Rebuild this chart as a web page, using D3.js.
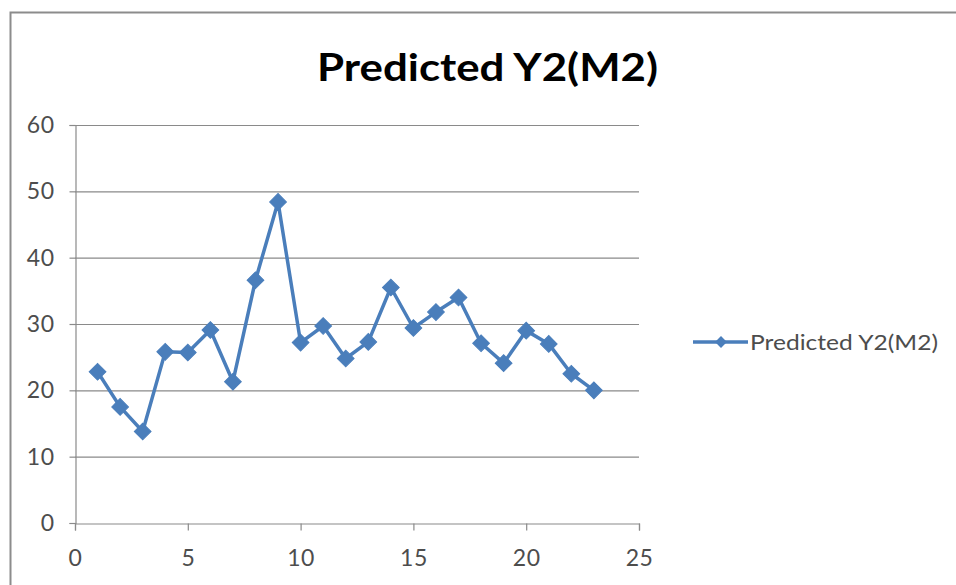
<!DOCTYPE html>
<html>
<head>
<meta charset="utf-8">
<script src="https://cdn.jsdelivr.net/npm/d3@7"></script>
<style>
  html, body { margin: 0; padding: 0; background: #fff; }
  svg { display: block; }
</style>
</head>
<body>
<svg id="chart" width="956" height="585"></svg>
<script>
// Series data
const xValues = [1, 2, 3, 4, 5, 6, 7, 8, 9, 10, 11, 12, 13, 14, 15, 16, 17, 18, 19, 20, 21, 22, 23];
const yValues = [22.8, 17.5, 13.8, 25.8, 25.7, 29.1, 21.3, 36.6, 48.4, 27.2, 29.7, 24.8, 27.3, 35.5, 29.4, 31.8, 34.0, 27.1, 24.1, 29.0, 27.0, 22.5, 20.0];
const xTicks = [0, 5, 10, 15, 20, 25];
const yTicks = [0, 10, 20, 30, 40, 50, 60];
const seriesName = "Predicted Y2(M2)";
const chartTitle = "Predicted Y2(M2)";

const svg = d3.select("#chart");
const font = "Lato, 'Open Sans', sans-serif";
const blue = "#4A7EBB";
const labelGray = "#4d4d4d";

// Chart frame
svg.append("rect")
  .attr("x", 10.5).attr("y", 12.5)
  .attr("width", 960).attr("height", 600)
  .attr("fill", "#fff")
  .attr("stroke", "#8c8c8c")
  .attr("stroke-width", 2);

const plot = { left: 75, right: 639, top: 125, bottom: 523 };

const x = d3.scaleLinear().domain([0, 25]).range([plot.left, plot.right]);
const y = d3.scaleLinear().domain([0, 60]).range([plot.bottom, plot.top]);

// Gridlines
svg.append("g")
  .selectAll("line")
  .data(yTicks.filter(d => d > 0))
  .join("line")
  .attr("x1", plot.left).attr("x2", plot.right)
  .attr("y1", d => y(d) + 0.5).attr("y2", d => y(d) + 0.5)
  .attr("stroke", "#8a8a8a")
  .attr("stroke-width", 1.2);

// Y axis
const yAxis = svg.append("g")
  .attr("transform", `translate(${plot.left + 0.5},0)`)
  .call(d3.axisLeft(y).tickValues(yTicks).tickSize(6).tickPadding(15).tickFormat(d3.format("d")));

// X axis
const xAxis = svg.append("g")
  .attr("transform", `translate(0,${plot.bottom + 0.5})`)
  .call(d3.axisBottom(x).tickValues(xTicks).tickSize(7).tickPadding(19).tickFormat(d3.format("d")));

[yAxis, xAxis].forEach(g => {
  g.select(".domain").attr("stroke", "#8a8a8a").attr("stroke-width", 1.2);
  g.selectAll(".tick line").attr("stroke", "#8a8a8a").attr("stroke-width", 1.2);
  g.selectAll(".tick text")
    .attr("fill", labelGray)
    .style("font-family", font)
    .style("font-size", "23px")
    .style("letter-spacing", "0.5px");
});

// Series line
const pts = xValues.map((d, i) => [d, yValues[i]]);
svg.append("path")
  .datum(pts)
  .attr("fill", "none")
  .attr("stroke", blue)
  .attr("stroke-width", 3.5)
  .attr("stroke-linejoin", "round")
  .attr("d", d3.line().x(d => x(d[0])).y(d => y(d[1])));

// Diamond markers
svg.append("g")
  .selectAll("path")
  .data(pts)
  .join("path")
  .attr("transform", d => `translate(${x(d[0])},${y(d[1])}) rotate(45)`)
  .attr("d", d3.symbol().type(d3.symbolSquare).size(140))
  .attr("fill", blue)
  .attr("stroke", blue)
  .attr("stroke-width", 1);

// Title
svg.append("text")
  .attr("x", 317).attr("y", 81)
  .attr("textLength", 341)
  .attr("lengthAdjust", "spacingAndGlyphs")
  .style("font-family", font)
  .style("font-weight", "bold")
  .style("font-size", "38px")
  .attr("fill", "#000")
  .text(chartTitle);

// Legend
const lg = svg.append("g").attr("transform", "translate(693,342)");
lg.append("line")
  .attr("x1", 0).attr("x2", 55).attr("y1", 0).attr("y2", 0)
  .attr("stroke", blue).attr("stroke-width", 3.5);
lg.append("path")
  .attr("transform", "translate(28,0) rotate(45)")
  .attr("d", d3.symbol().type(d3.symbolSquare).size(70))
  .attr("fill", blue);
lg.append("text")
  .attr("x", 57).attr("y", 8)
  .attr("textLength", 188)
  .attr("lengthAdjust", "spacingAndGlyphs")
  .style("font-family", font)
  .style("font-size", "22px")
  .attr("fill", labelGray)
  .text(seriesName);
</script>
</body>
</html>
